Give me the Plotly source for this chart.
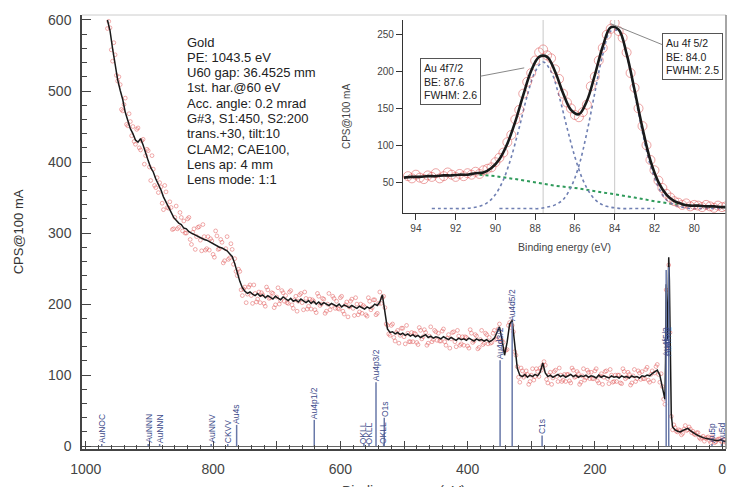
import numpy as np
import plotly.graph_objects as go

# ---------------- survey spectrum (main plot) ----------------
survey_be = np.arange(966, -8, -4)          # binding-energy grid, 244 points
survey_cps = [
    600, 585, 560, 537, 516, 501, 488, 470, 457, 447,
    440, 431, 428, 433, 424, 411, 402, 392, 386, 376,
    369, 361, 351, 344, 337, 328, 322, 318, 314, 312,
    307, 306, 302, 300, 298, 297, 295, 293, 291, 290,
    288, 285, 284, 282, 280, 279, 277, 275, 271, 267,
    257, 244, 232, 223, 218, 215, 217, 214, 212, 215,
    211, 213, 209, 212, 210, 207, 211, 208, 206, 210,
    207, 205, 208, 204, 206, 203, 207, 204, 202, 205,
    201, 204, 200, 203, 199, 202, 200, 198, 201, 199,
    197, 200, 196, 199, 197, 195, 198, 196, 194, 197,
    195, 193, 196, 194, 196, 200, 198, 203, 213, 188,
    165, 160, 161, 158, 160, 157, 159, 156, 158, 155,
    157, 154, 156, 153, 155, 157, 153, 155, 152, 154,
    153, 151, 154, 152, 150, 153, 151, 149, 152, 150,
    151, 149, 152, 150, 148, 151, 149, 150, 148, 150,
    147, 149, 152, 160, 168, 150, 128, 146, 172, 177,
    140, 110, 100, 98, 101, 97, 100, 98, 101, 99,
    104, 117, 103, 98, 100, 97, 99, 101, 98, 100,
    97, 99, 101, 98, 100, 97, 99, 98, 100, 97,
    99, 98, 96, 100, 97, 99, 98, 96, 99, 97,
    98, 96, 99, 97, 98, 96, 99, 97, 98, 96,
    99, 98, 100, 99, 102, 104, 107, 100, 82, 66,
    150, 150, 27, 23, 21, 20, 22, 24, 25, 22,
    19, 17, 15, 13, 12, 11, 10, 9, 9, 8,
    8, 9, 7, 7,
]
detail_be = [91, 89, 88, 87, 85, 84, 83, 81, 80]
detail_cps = [70, 120, 228, 185, 205, 266, 235, 85, 45]

# raw (noisy) survey points, read around the smoothed curve
red1_be = survey_be - 2
red1_cps = [
    598, 558, 568, 522, 520, 474, 481, 453, 468, 437,
    429, 446, 420, 430, 397, 418, 393, 409, 367, 378,
    371, 342, 367, 336, 344, 305, 322, 306, 329, 303,
    300, 320, 291, 301, 277, 308, 290, 312, 276, 295,
    292, 270, 303, 277, 291, 258, 278, 263, 285, 256,
    246, 249, 220, 221, 202, 224, 212, 227, 203, 217,
    216, 201, 224, 208, 216, 195, 210, 200, 219, 204,
    202, 217, 199, 206, 190, 213, 202, 217, 193, 207,
    206, 192, 215, 198, 208, 187, 200, 192, 211, 194,
    194, 209, 190, 199, 182, 204, 194, 209, 185, 200,
    198, 185, 209, 192, 206, 185, 201, 201, 211, 172,
    158, 170, 153, 160, 145, 166, 154, 170, 147, 160,
    159, 146, 167, 151, 164, 142, 155, 147, 163, 149,
    148, 162, 147, 152, 138, 160, 147, 163, 142, 154,
    154, 141, 164, 146, 157, 137, 150, 143, 159, 144,
    145, 159, 150, 165, 148, 146, 135, 170, 167, 161,
    128, 97, 110, 97, 106, 87, 100, 93, 109, 98,
    107, 119, 94, 100, 87, 105, 98, 110, 91, 101,
    101, 92, 110, 97, 105, 87, 99, 93, 107, 95,
    95, 106, 92, 99, 87, 105, 95, 108, 90, 100,
    100, 89, 109, 95, 104, 86, 99, 91, 106, 94,
    95, 108, 93, 101, 92, 112, 101, 102, 66, 220,
    255, 42, 30, 21, 23, 16, 24, 22, 27, 19,
    17, 19, 12, 12, 7, 12, 8, 13, 5, 9,
    10, 6, 9, 6,
]
red2_cps = [
    588, 589, 542, 551, 514, 509, 472, 490, 451, 457,
    450, 425, 448, 417, 432, 409, 416, 374, 390, 364,
    357, 365, 333, 358, 335, 336, 306, 338, 308, 322,
    317, 300, 322, 284, 306, 295, 309, 275, 295, 278,
    276, 289, 266, 296, 278, 287, 261, 295, 265, 277,
    264, 240, 246, 212, 224, 214, 227, 201, 215, 207,
    202, 213, 197, 220, 209, 215, 199, 223, 205, 216,
    212, 201, 219, 194, 211, 204, 215, 192, 208, 197,
    193, 204, 188, 211, 200, 207, 190, 215, 197, 208,
    204, 193, 211, 186, 203, 196, 207, 184, 200, 189,
    187, 196, 183, 204, 195, 206, 187, 217, 209, 195,
    170, 156, 172, 148, 163, 156, 166, 144, 159, 147,
    147, 158, 143, 163, 154, 160, 145, 168, 150, 161,
    159, 148, 165, 142, 157, 151, 161, 140, 155, 144,
    142, 153, 138, 159, 148, 155, 139, 163, 145, 157,
    153, 146, 163, 151, 172, 149, 136, 136, 174, 170,
    133, 112, 90, 106, 100, 101, 91, 109, 98, 105,
    110, 114, 114, 89, 104, 96, 107, 91, 100, 93,
    91, 101, 89, 107, 98, 102, 90, 109, 96, 104,
    104, 95, 109, 89, 102, 97, 106, 88, 100, 91,
    91, 100, 88, 105, 97, 101, 89, 108, 95, 103,
    105, 95, 111, 90, 106, 103, 115, 90, 84, 59,
    140, 160, 23, 26, 20, 22, 18, 29, 23, 24,
    21, 16, 19, 10, 14, 11, 13, 5, 10, 6,
    10, 7, 9, 5,
]

# peak marker labels
label_be = [975, 902, 884, 803, 777, 763, 641, 563, 555, 544, 532, 531, 349, 330, 283, 88, 84, 16, 1]
label_top = [3, 3, 3, 3, 3, 30, 37, 3, 3, 90, 3, 40, 121, 175, 15, 248, 252, 3, 3]
label_text_y = [3, 3, 3, 3, 3, 30, 37, 1, 1, 90, 1, 40, 121, 175, 15, 125, 125, 3, 3]
label_text = ["AuNOC", "AuNNN", "AuNNN", "AuNNV", "CKVV", "Au4s", "Au4p1/2", "OKLL", "OKLL",
              "Au4p3/2", "OKLL", "O1s", "Au4d3/2", "Au4d5/2", "C1s", "Au4f5/2", "Au4f7/2",
              "Au5p", "Au5d"]

info_lines = ["Gold", "PE: 1043.5 eV", "U60 gap: 36.4525 mm", "1st. har.@60 eV",
              "Acc. angle: 0.2 mrad", "G#3, S1:450, S2:200", "trans.+30, tilt:10",
              "CLAM2; CAE100,", "Lens ap: 4 mm", "Lens mode: 1:1"]

# ---------------- Au 4f detail (inset) ----------------
data_be = np.round(np.arange(94.4, 78.3, -0.2), 1)
data_cps = [
    58, 55, 60, 56, 54, 59, 57, 62, 55, 58,
    63, 60, 57, 61, 58, 62, 60, 64, 61, 66,
    68, 70, 77, 83, 90, 104, 114, 135, 148, 170,
    186, 198, 215, 226, 230, 222, 218, 203, 190, 170,
    158, 150, 141, 138, 145, 155, 180, 193, 215, 232,
    250, 258, 266, 255, 246, 226, 198, 178, 150, 126,
    100, 80, 66, 52, 42, 34, 29, 24, 22, 19,
    21, 17, 19, 18, 16, 19, 17, 15, 18, 16,
    17,
]
fit_be = np.round(np.arange(94.6, 78.1, -0.4), 1)
fit_cps = [56, 57, 57, 58, 58, 59, 59, 60, 60, 62,
           63, 69, 81, 102, 132, 168, 201, 220, 220, 200,
           171, 148, 142, 160, 195, 234, 260, 257, 224, 175,
           123, 79, 50, 33, 24, 20, 18, 18, 17, 17,
           16, 16]
comp1_be = np.round(np.arange(93.2, 81.9, -0.4), 1)
comp1_cps = [14, 14, 14, 14, 14, 15, 17, 22, 33, 53, 84, 124, 167, 200, 213,
             200, 167, 124, 84, 53, 33, 22, 17, 15, 14, 14, 14, 14, 14]
comp2_be = np.round(np.arange(89.8, 78.5, -0.4), 1)
comp2_cps = [14, 14, 14, 14, 14, 14, 16, 19, 26, 43, 72, 117, 171, 223, 255,
             255, 223, 171, 117, 72, 43, 26, 19, 16, 14, 14, 14, 14, 14]
bg_be = [90.8, 90.0, 89.0, 88.0, 87.0, 86.0, 85.0, 84.0, 83.0, 82.0, 81.0, 80.4]
bg_cps = [60, 58, 54, 49, 45, 42, 38, 33, 29, 24, 20, 19]
peak_pos = [87.6, 84.0]

FONT = "Liberation Sans, Arial, sans-serif"

fig = go.Figure()

# main survey
be_all = np.concatenate([survey_be, detail_be])
cps_all = np.concatenate([survey_cps, detail_cps])
order = np.argsort(-be_all)
red_x = np.concatenate([red1_be, survey_be])
red_y = np.concatenate([red1_cps, red2_cps])
fig.add_trace(go.Scatter(x=red_x, y=red_y, mode="markers",
                         marker=dict(symbol="circle-open", size=3.8, color="rgba(226,90,90,0.5)",
                                     line=dict(width=1)),
                         xaxis="x", yaxis="y", showlegend=False, hoverinfo="skip"))
fig.add_trace(go.Scatter(x=be_all[order], y=cps_all[order], mode="lines",
                         line=dict(color="#1a1a1a", width=1.5),
                         xaxis="x", yaxis="y", showlegend=False))

# label lines
lx, ly = [], []
for b, t in zip(label_be, label_top):
    lx += [b, b, None]
    ly += [0, t, None]
fig.add_trace(go.Scatter(x=lx, y=ly, mode="lines", line=dict(color="#6878a8", width=1.5),
                         xaxis="x", yaxis="y", showlegend=False, hoverinfo="skip"))

annotations = []
for b, ty, txt in zip(label_be, label_text_y, label_text):
    annotations.append(dict(x=b, y=ty, xref="x", yref="y", text=txt, showarrow=False,
                            textangle=-90, xanchor="center", yanchor="bottom",
                            font=dict(family=FONT, size=8.5, color="#3c4a8a"), borderpad=0))

# info block, one line per annotation (tight line spacing as in the reference)
for i, line in enumerate(info_lines):
    py = 42 + 15.3 * i
    annotations.append(dict(x=0.16, y=(449 - py) / 434, xref="paper", yref="paper",
                            xanchor="left", yanchor="middle", showarrow=False, text=line,
                            font=dict(family=FONT, size=13, color="#222")))

# main x-axis title: sits at the very bottom edge, mostly cut off as in the reference
annotations.append(dict(x=0.5, y=(449 - 491) / 434, xref="paper", yref="paper",
                        xanchor="center", yanchor="middle", showarrow=False,
                        text="Binding energy (eV)", font=dict(family=FONT, size=14, color="#444")))

# inset
vx, vy = [], []
for p in peak_pos:
    vx += [p, p, None]
    vy += [8, 270, None]
fig.add_trace(go.Scatter(x=vx, y=vy, mode="lines", line=dict(color="#c8c8c8", width=1),
                         xaxis="x2", yaxis="y2", showlegend=False, hoverinfo="skip"))
fig.add_trace(go.Scatter(x=bg_be, y=bg_cps, mode="lines", line=dict(color="#2e9a5a", width=2, dash="dot"),
                         xaxis="x2", yaxis="y2", showlegend=False))
for cb, cc in [(comp1_be, comp1_cps), (comp2_be, comp2_cps)]:
    fig.add_trace(go.Scatter(x=cb, y=cc, mode="lines", line=dict(color="#6f7fb2", width=1.6, dash="dot", shape="spline"),
                             xaxis="x2", yaxis="y2", showlegend=False))
fig.add_trace(go.Scatter(x=data_be, y=data_cps, mode="markers",
                         marker=dict(symbol="circle-open", size=9, color="rgba(222,90,90,0.55)", line=dict(width=1)),
                         xaxis="x2", yaxis="y2", showlegend=False))
fig.add_trace(go.Scatter(x=fit_be, y=fit_cps, mode="lines", line=dict(color="#1a1a1a", width=2.6, shape="spline"),
                         xaxis="x2", yaxis="y2", showlegend=False))

box_style = dict(xref="x2", yref="y2", axref="x2", ayref="y2", showarrow=True, arrowhead=0,
                 arrowcolor="#888", arrowwidth=1, bordercolor="#555", borderwidth=1, borderpad=3,
                 bgcolor="white", align="left", font=dict(family=FONT, size=10.5, color="#222"))
annotations.append(dict(x=88.55, y=205, ax=92.25, ay=186,
                        text="Au 4f7/2<br>BE: 87.6<br>FWHM: 2.6", **box_style))
annotations.append(dict(x=84.2, y=265, ax=80.1, ay=220,
                        text="Au 4f 5/2<br>BE: 84.0<br>FWHM: 2.5", **box_style))

xt = list(range(0, 1001, 100))
fig.update_layout(
    width=730, height=487,
    margin=dict(l=82, r=4, t=15, b=38),
    paper_bgcolor="white", plot_bgcolor="white",
    font=dict(family=FONT, color="#444"),
    annotations=annotations,
    xaxis=dict(domain=[0, 1], range=[1006, -6], tickvals=xt,
               ticktext=[str(v) if v % 200 == 0 else "" for v in xt],
               ticks="inside", ticklen=8, tickcolor="#444", tickwidth=1,
               minor=dict(tick0=0, dtick=20, ticks="inside", ticklen=4, tickcolor="#444"),
               showline=True, linecolor="#444", linewidth=1.5, showgrid=False, zeroline=False,
               tickfont=dict(size=14, color="#444"), ticklabelstandoff=6,
               automargin=False),
    yaxis=dict(domain=[0, 1], range=[-4, 607], tickvals=list(range(0, 601, 100)),
               ticks="inside", ticklen=9, tickcolor="#444",
               minor=dict(tick0=0, dtick=20, ticks="inside", ticklen=5, tickcolor="#444"),
               showline=True, linecolor="#444", linewidth=1.5, showgrid=False,
               zeroline=True, zerolinecolor="#666", zerolinewidth=1,
               tickfont=dict(size=14, color="#444"), ticklabelstandoff=6,
               title=dict(text="CPS@100 mA", font=dict(size=13, color="#333"), standoff=22),
               automargin=False),
    xaxis2=dict(domain=[0.4984, 1.0], anchor="y2", range=[94.65, 78.4],
                tickvals=[94, 92, 90, 88, 86, 84, 82, 80], ticks="outside", ticklen=6, tickcolor="#333",
                showline=True, linecolor="#333", linewidth=1.2, showgrid=False, zeroline=False,
                tickfont=dict(size=10, color="#444"),
                title=dict(text="Binding energy (eV)", font=dict(size=10.5, color="#444"), standoff=10)),
    yaxis2=dict(domain=[0.5438, 0.9885], anchor="x2", range=[8, 270],
                tickvals=[50, 100, 150, 200, 250], ticks="outside", ticklen=6, tickcolor="#333",
                showline=True, linecolor="#333", linewidth=1.2, showgrid=False, zeroline=False,
                tickfont=dict(size=10, color="#444"),
                title=dict(text="CPS@100 mA", font=dict(size=10, color="#444"), standoff=24)),
    shapes=[
        dict(type="line", xref="paper", yref="paper", x0=0, x1=1, y0=1, y1=1,
             line=dict(color="#cccccc", width=1)),
        dict(type="line", xref="paper", yref="paper", x0=1, x1=1, y0=0, y1=1,
             line=dict(color="#888", width=1.5)),
    ],
)

fig.write_html("out.html")
